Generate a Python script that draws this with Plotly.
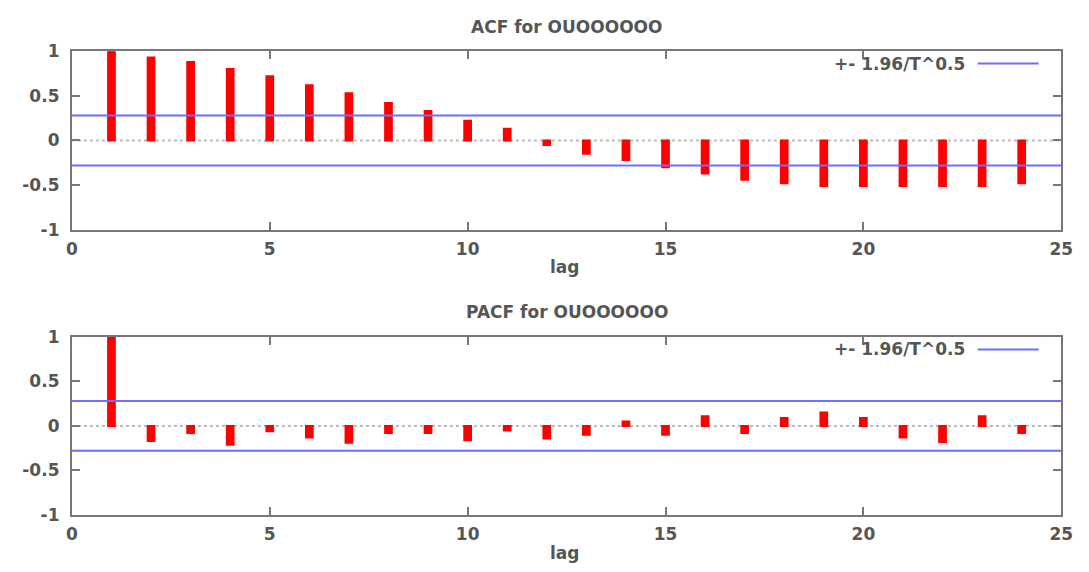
import plotly.graph_objects as go
from plotly.subplots import make_subplots

lags = list(range(1, 25))
acf_values = [1.00, 0.93, 0.88, 0.80, 0.72, 0.62, 0.53, 0.42, 0.33, 0.22, 0.13, -0.05,
              -0.15, -0.22, -0.30, -0.37, -0.44, -0.48, -0.51, -0.51, -0.51, -0.51, -0.51, -0.48]
pacf_values = [1.00, -0.17, -0.08, -0.21, -0.06, -0.13, -0.19, -0.08, -0.08, -0.16, -0.05, -0.14,
               -0.10, 0.05, -0.10, 0.11, -0.08, 0.09, 0.15, 0.09, -0.13, -0.18, 0.11, -0.08]
conf_band = 0.28
band_x = [0, 25]
titles = ["ACF for OUOOOOOO", "PACF for OUOOOOOO"]
x_label = "lag"
legend_label = "+- 1.96/T^0.5"
x_tick_vals = [0, 5, 10, 15, 20, 25]
x_tick_text = ["0", "5", "10", "15", "20", "25"]
y_tick_vals = [-1, -0.5, 0, 0.5, 1]
y_tick_text = ["-1", "-0.5", "0", "0.5", "1"]

W, H = 1089, 572
FONT = dict(family="DejaVu Sans", size=17, color="#555555", weight="bold")
AXIS_COLOR = "#777777"
BAND_COLOR = "rgb(110,110,255)"

fig = make_subplots(rows=2, cols=1)

xdom = [67 / W, 1073 / W]
ydoms = [[1 - 227.7 / H, 1 - 42.7 / H], [1 - 523.3 / H, 1 - 338.7 / H]]

for i, vals in enumerate([acf_values, pacf_values]):
    r = i + 1
    fig.add_trace(go.Bar(x=lags, y=vals, width=0.17,
                         marker=dict(color="#ff0000", line=dict(color="#ff0000", width=2)),
                         showlegend=False, hoverinfo="x+y"), row=r, col=1)
    for s in (1, -1):
        fig.add_trace(go.Scatter(x=band_x, y=[s * conf_band] * 2, mode="lines",
                                 line=dict(color=BAND_COLOR, width=2),
                                 showlegend=False, hoverinfo="skip"), row=r, col=1)

axis_common = dict(showgrid=False, zeroline=False, showline=True, linecolor=AXIS_COLOR,
                   linewidth=2, mirror="allticks", ticks="inside", ticklen=8,
                   tickcolor=AXIS_COLOR, tickwidth=2, tickfont=FONT)

for i in range(2):
    xa = "xaxis" if i == 0 else "xaxis2"
    ya = "yaxis" if i == 0 else "yaxis2"
    fig.layout[xa].update(domain=xdom, range=[0, 25], tickvals=x_tick_vals,
                          ticktext=x_tick_text, ticklabelstandoff=3, **axis_common)
    fig.layout[ya].update(domain=ydoms[i], range=[-1, 1], tickvals=y_tick_vals,
                          ticktext=y_tick_text, ticklabelstandoff=7, **axis_common)

shapes = []
annotations = []
title_y = [17.7, 313]
lag_y = [266.7, 563]
legend_y = [55.5, 351.7]
for i in range(2):
    xr = "x" if i == 0 else "x2"
    yr = "y" if i == 0 else "y2"
    shapes.append(dict(type="line", xref=xr + " domain", yref=yr, x0=0, x1=1, y0=0, y1=0,
                       line=dict(color="#bbbbbb", width=2, dash="dot"), layer="below"))
    shapes.append(dict(type="line", xref="paper", yref="paper", x0=988 / W, x1=1050 / W,
                       y0=1 - legend_y[i] / H, y1=1 - legend_y[i] / H,
                       line=dict(color=BAND_COLOR, width=2)))
    annotations.append(dict(text=titles[i], xref="paper", yref="paper", x=570 / W,
                            y=1 - title_y[i] / H, xanchor="center", yanchor="middle",
                            showarrow=False, font=FONT))
    annotations.append(dict(text=x_label, xref="paper", yref="paper", x=568 / W,
                            y=1 - lag_y[i] / H, xanchor="center", yanchor="middle",
                            showarrow=False, font=FONT))
    annotations.append(dict(text=legend_label, xref="paper", yref="paper", x=977 / W,
                            y=1 - legend_y[i] / H, xanchor="right", yanchor="middle",
                            showarrow=False, font=FONT))

fig.update_layout(width=W, height=H, margin=dict(l=0, r=0, t=0, b=0),
                  paper_bgcolor="white", plot_bgcolor="white", showlegend=False,
                  shapes=shapes, annotations=annotations, barmode="overlay")

fig.write_html("out.html")
